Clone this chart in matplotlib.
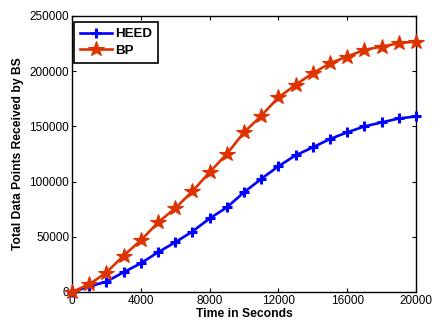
import matplotlib
matplotlib.use("Agg")
import matplotlib.pyplot as plt

time_s = [0, 1000, 2000, 3000, 4000, 5000, 6000, 7000, 8000, 9000, 10000,
          11000, 12000, 13000, 14000, 15000, 16000, 17000, 18000, 19000, 20000]
heed = [0, 5000, 9400, 17900, 26000, 36000, 45000, 54800, 66600, 76600, 90300,
        102400, 113900, 123800, 131000, 138600, 144600, 150000, 153600, 157200, 159000]
bp = [0, 7000, 17600, 33000, 46700, 63000, 75800, 91200, 108500, 125000, 144600,
      159600, 176200, 187600, 198200, 207200, 213300, 219300, 222300, 225300, 226800]
xticks = [0, 4000, 8000, 12000, 16000, 20000]
yticks = [0, 50000, 100000, 150000, 200000, 250000]

plt.rcParams['font.family'] = ['Liberation Sans', 'DejaVu Sans']

fig = plt.figure(figsize=(4.34, 3.2), dpi=100)
ax = fig.add_axes([72/434, 1 - 292/320, (416-72)/434, (292-16)/320])

ax.plot(time_s, heed, color='#0000ff', lw=1.9, marker='+', ms=7.5, mew=2.2,
        label='HEED', clip_on=False, zorder=3)
ax.plot(time_s, bp, color='#dd3300', lw=1.9, marker='*', ms=11.5, mew=0.8,
        label='BP', clip_on=False, zorder=4)

ax.set_xlim(0, 20000)
ax.set_ylim(0, 250000)
ax.set_xticks(xticks)
ax.set_yticks(yticks)
ax.set_xticklabels([str(v) for v in xticks])
ax.set_yticklabels([str(v) for v in yticks])
ax.tick_params(direction='in', top=True, right=True, labelsize=8.5, length=3, width=0.8, pad=2)
for s in ax.spines.values():
    s.set_linewidth(1.0)

ax.set_xlabel('Time in Seconds', fontsize=8.7, fontweight='bold', labelpad=1)
ax.set_ylabel('Total Data Points Received by BS', fontsize=8.7, fontweight='bold', labelpad=4)

leg = ax.legend(loc='upper left', bbox_to_anchor=(2/344, 1 - 6/276), borderaxespad=0,
                prop={'weight': 'bold', 'size': 9.6}, fancybox=False,
                edgecolor='black', framealpha=1, handlelength=2.4,
                borderpad=0.45, labelspacing=0.3, handletextpad=0.25)
leg.get_frame().set_linewidth(1.2)

fig.savefig('out.png', dpi=100)
